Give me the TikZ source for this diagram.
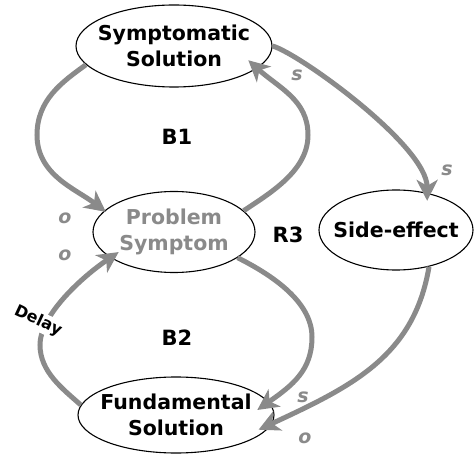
\documentclass[tikz,border=0pt]{standalone}
\usepackage{fontspec}
\setmainfont{DejaVu Sans}
\usetikzlibrary{arrows.meta,shapes.geometric}
\definecolor{arr}{HTML}{8A8A8A}
\begin{document}
\begin{tikzpicture}[x=1pt,y=-1pt,
  ell/.style={draw=black,line width=1.1pt,ellipse,inner sep=0pt,fill=white},
  txt/.style={align=center,font=\fontsize{20.5}{26}\selectfont\bfseries,inner sep=0pt},
  link/.style={draw=arr,line width=5pt,-{Stealth[length=21pt,width=21pt,inset=6pt]}},
  pol/.style={text=arr,font=\fontsize{19}{22}\selectfont\bfseries\itshape,inner sep=0pt},
  loopname/.style={font=\fontsize{21}{26}\selectfont\bfseries,inner sep=0pt}]
\useasboundingbox (0,0) rectangle (474,457);
\node[ell,minimum width=196pt,minimum height=82pt,label={[txt]center:{Symptomatic\\Solution}}] (symp) at (174,46) {};
\node[ell,minimum width=162pt,minimum height=81pt,label={[txt,text=arr]center:{Problem\\Symptom}}] (prob) at (174,232) {};
\node[ell,minimum width=154pt,minimum height=80pt,label={[txt]center:{Side-effect}}] (side) at (396,230) {};
\node[ell,minimum width=196pt,minimum height=76pt,label={[txt]center:{Fundamental\\Solution}}] (fund) at (176,415) {};

\draw[link,shorten >=-2pt] (symp.192) .. controls (62,82) and (37,100) .. (37,135)
   .. controls (37,175) and (76,189) .. (prob.163);
\draw[link,shorten >=-12pt] (prob.17) .. controls (272,192) and (308,170) .. (308,135)
   .. controls (308,100) and (279,88) .. (symp.-15);
\draw[link,shorten >=-8pt] (symp.0) .. controls (300,54) and (427,146) .. (side.50);
\draw[link,shorten >=-15pt] (side.-48) .. controls (414,356) and (353,386) .. (fund.-5);
\draw[link,shorten >=-14pt] (prob.-22) .. controls (268,273) and (312,300) .. (312,337)
   .. controls (312,370) and (293,385) .. (fund.8);
\draw[link,shorten >=-10pt] (fund.174) .. controls (63,389) and (40,372) .. (40,345)
   .. controls (40,315) and (82,277) .. (prob.202);

\node[rotate=-25,fill=white,inner sep=2pt,font=\fontsize{16}{19}\selectfont\bfseries] (delay) at (38,321) {Delay};

\node[loopname] (b1) at (177,137) {B1};
\node[loopname] (b2) at (177,338) {B2};
\node[loopname] (r3) at (288,235) {R3};

\node[pol] (p1) at (297,75) {s};
\node[pol] (p2) at (447,170) {s};
\node[pol] (p3) at (65,218) {o};
\node[pol] (p4) at (65,255) {o};
\node[pol] (p5) at (303,397) {s};
\node[pol] (p6) at (305,438) {o};
\end{tikzpicture}
\end{document}
